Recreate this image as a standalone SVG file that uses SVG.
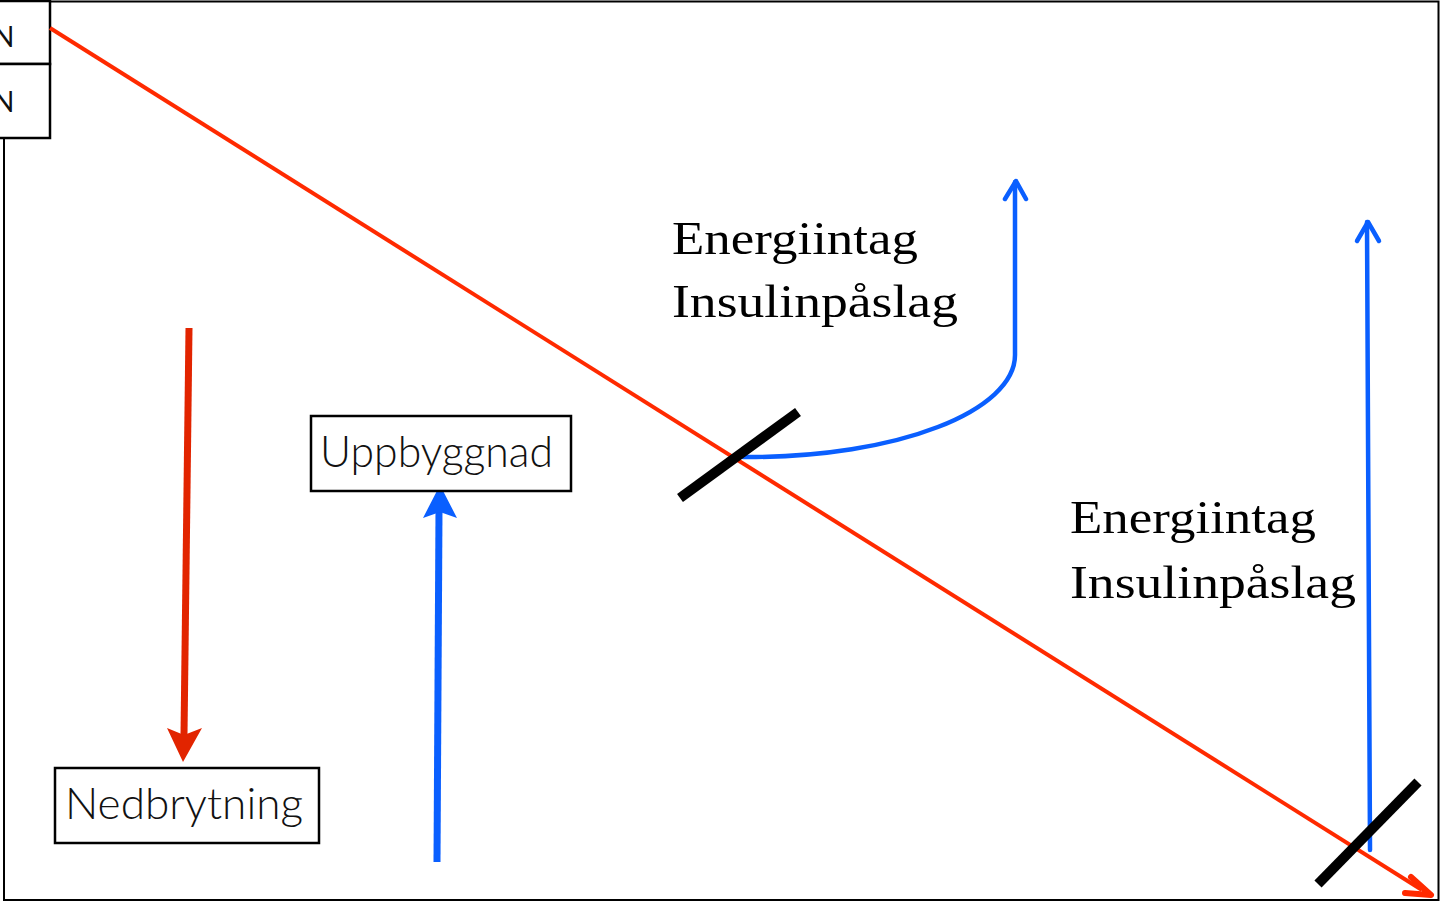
<svg xmlns="http://www.w3.org/2000/svg" width="1441" height="904" viewBox="0 0 1441 904">
<defs>
<style>
.frame{fill:none;stroke:#000;stroke-width:2}
.box{fill:#fff;stroke:#000;stroke-width:2.5}
.sans{font-family:Lato,"Open Sans","Liberation Sans",sans-serif;font-weight:300;fill:#111}
.serif{font-family:"Liberation Serif","DejaVu Serif",serif;font-size:47px;fill:#000}
.bar{stroke:#000;stroke-width:10}
.blue{fill:none;stroke:#0a5fff;stroke-width:4.5;stroke-linecap:round;stroke-linejoin:round}
</style>
</defs>
<rect width="1441" height="904" fill="#fff"/>
<g id="frame">
<path class="frame" d="M50,1.5 H1438.5 V900 H4 V138"/>
</g>
<g id="corner-boxes">
<rect class="box" x="-5" y="1" width="55" height="63"/>
<rect class="box" x="-5" y="64" width="55" height="74"/>
<text x="-7" y="47" font-family="Lato,'Liberation Sans',sans-serif" font-size="28" font-weight="400" fill="#111">N</text>
<text x="-7" y="112" font-family="Lato,'Liberation Sans',sans-serif" font-size="28" font-weight="400" fill="#111">N</text>
</g>
<g id="connectors">
<line x1="50" y1="28" x2="1422" y2="890" stroke="#ff2a00" stroke-width="4"/>
<path d="M1411,877 L1431,895 L1405,893" fill="none" stroke="#ff2a00" stroke-width="6" stroke-linecap="round" stroke-linejoin="round"/>
<line x1="189" y1="328" x2="184" y2="735" stroke="#e22400" stroke-width="7"/>
<path d="M183,762 L167,728 L184,735 L202,728 Z" fill="#e22400"/>
<line x1="437" y1="862" x2="439" y2="510" stroke="#0a5fff" stroke-width="7"/>
<path d="M440,485 L457,518 L440,512 L423,518 Z" fill="#0a5fff"/>
<path class="blue" d="M743,457 C900,458 1015,410 1015,355 V182"/>
<path class="blue" d="M1005,199 L1016,181 L1026,199"/>
<path class="blue" d="M1370,850 L1367,222"/>
<path class="blue" d="M1357,241 L1368,222 L1379,241"/>
<line class="bar" x1="680" y1="498" x2="798" y2="412"/>
<line class="bar" x1="1318" y1="884" x2="1418" y2="782"/>
</g>
<g id="nedbrytning">
<rect class="box" x="55" y="768" width="264" height="75"/>
<text class="sans" x="65" y="819" font-size="44" textLength="238" lengthAdjust="spacingAndGlyphs">Nedbrytning</text>
</g>
<g id="uppbyggnad">
<rect class="box" x="311" y="416" width="260" height="75"/>
<text class="sans" x="320" y="467" font-size="44" textLength="233" lengthAdjust="spacingAndGlyphs">Uppbyggnad</text>
</g>
<g id="label-1">
<text class="serif" x="672" y="254" textLength="246" lengthAdjust="spacingAndGlyphs">Energiintag</text>
<text class="serif" x="672" y="317" textLength="286" lengthAdjust="spacingAndGlyphs">Insulinpåslag</text>
</g>
<g id="label-2">
<text class="serif" x="1070" y="533" textLength="246" lengthAdjust="spacingAndGlyphs">Energiintag</text>
<text class="serif" x="1070" y="598" textLength="286" lengthAdjust="spacingAndGlyphs">Insulinpåslag</text>
</g>
</svg>
